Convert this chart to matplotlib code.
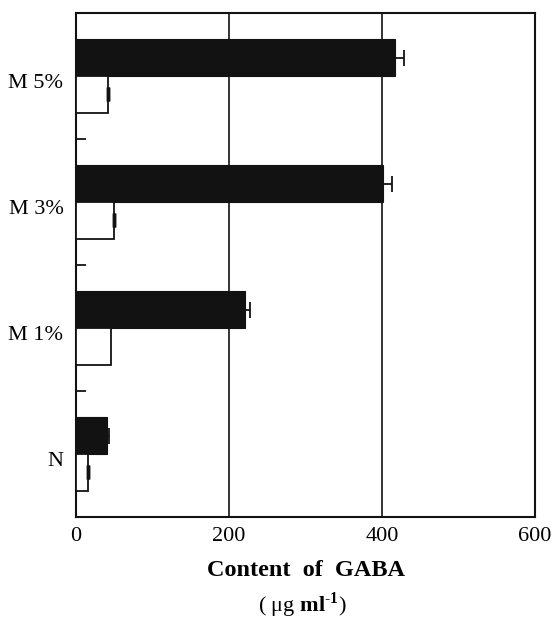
import matplotlib.pyplot as plt
import matplotlib.transforms as mtransforms
import numpy as np

plt.rcParams['font.family'] = ['Liberation Serif', 'DejaVu Serif']
plt.rcParams['mathtext.fontset'] = 'custom'
plt.rcParams['mathtext.rm'] = 'Liberation Serif'
plt.rcParams['mathtext.bf'] = 'Liberation Serif:bold'

# data (bottom to top)
groups = ['N', 'M 1%', 'M 3%', 'M 5%']
black_vals = [40, 221, 401, 417]
black_err = [3, 6, 12, 12]
white_vals = [16, 46, 50, 42]
white_err = [0, 0, 0, 0]
white_has_cap = [True, False, True, True]

fig = plt.figure(figsize=(5.54, 6.22), dpi=100)
ax = fig.add_axes([76 / 554, 1 - 517 / 622, 459 / 554, 504 / 622])

y = np.arange(len(groups))
h = 0.29

ax.barh(y + h / 2, black_vals, height=h, color='#121212', edgecolor='#121212',
        linewidth=0.8, zorder=3)
ax.barh(y - h / 2, white_vals, height=h, color='white', edgecolor='#121212',
        linewidth=1.3, zorder=3)

ax.errorbar(black_vals, y + h / 2, xerr=[np.zeros(4), black_err], fmt='none',
            ecolor='#121212', elinewidth=1.3, capsize=5.5, capthick=1.3, zorder=4)

# white bars: only a short thick cap sitting on the bar end
idx = [i for i in range(len(groups)) if white_has_cap[i]]
wv = np.array(white_vals)[idx]
we = np.array(white_err)[idx]
ax.errorbar(wv, y[idx] - h / 2, xerr=[np.zeros(len(idx)), we], fmt='none',
            ecolor='#121212', elinewidth=1.3, capsize=5, capthick=2.5, zorder=4)

ax.set_xlim(0, 600)
ax.set_ylim(-0.5, 3.5)
ax.set_xticks([0, 200, 400, 600])
ax.set_yticks(y)
ax.set_yticklabels(groups)
ax.set_yticks([0.5, 1.5, 2.5], minor=True)
ax.tick_params(axis='x', length=0, labelsize=16, pad=7)
ax.tick_params(axis='y', which='major', length=0, labelsize=16, pad=9)
ax.tick_params(axis='y', which='minor', direction='in', length=7, width=1.2)

# labels sit a little below the group centres in the original
shift = mtransforms.ScaledTranslation(0, -0.05, fig.dpi_scale_trans)
for lab in ax.get_yticklabels():
    lab.set_transform(lab.get_transform() + shift)

ax.grid(axis='x', color='#121212', linewidth=1.2, zorder=1)
ax.set_axisbelow(True)
for s in ax.spines.values():
    s.set_linewidth(1.5)
    s.set_color('#121212')

fig.text(306 / 554, 1 - 571 / 622, 'Content  of  GABA', ha='center', va='center',
         fontsize=17.5, fontweight='bold')
fig.text(302 / 554, 1 - 605 / 622,
         r'( $\mathrm{\mu}$g $\mathbf{ml}^{\mathbf{\text{-}1}}$)',
         ha='center', va='center', fontsize=16)

plt.savefig('out.png', dpi=100)
